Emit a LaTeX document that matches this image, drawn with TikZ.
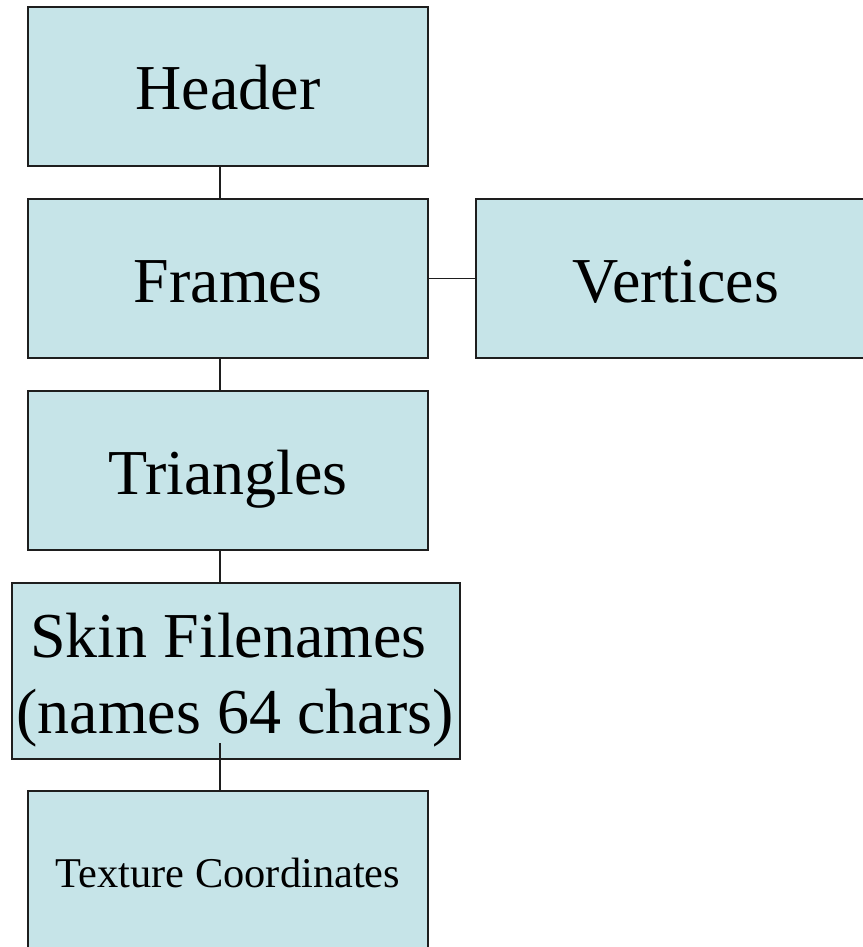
\documentclass[tikz,border=0pt]{standalone}
\usepackage{fontspec}
\setmainfont{Liberation Serif}
\definecolor{boxfill}{RGB}{198,228,232}
\definecolor{edge}{RGB}{30,30,30}
\begin{document}
\begin{tikzpicture}[x=1pt,y=-1pt,
  box/.style={draw=edge, line width=1.6pt, fill=boxfill, minimum width=400pt,
    minimum height=159pt, inner sep=0pt, font=\fontsize{64}{76}\selectfont,
    text height=47pt, text depth=0pt},
  bigtext/.style={inner sep=0pt, font=\fontsize{64}{76}\selectfont, anchor=base},
  link/.style={draw=edge, line width=1.6pt}]
\useasboundingbox (0,0) rectangle (862,947);
\coordinate (spine) at (220,0);
\node[box] (header) at (228,86.5) {Header};
\node[box] (frames) at (228,278.5) {Frames};
\node[box] (vertices) at (676,278.5) {Vertices};
\node[box] (triangles) at (228,470.5) {Triangles};
\node[box, minimum width=448pt, minimum height=176pt] (skin) at (236,671) {};
\node[bigtext] (skin1) at (236.5,657) {Skin Filenames\hspace*{0.25em}};
\node[bigtext] (skin2) at (235,733) {(names 64 chars)};
\node[box, font=\fontsize{42.4}{50}\selectfont, text height=33pt] (texture) at (228,870.5) {Texture Coordinates};
\coordinate (skinlink) at (220,743);
\draw[link] (header.south -| spine) -- (frames.north -| spine);
\draw[link] (frames.south -| spine) -- (triangles.north -| spine);
\draw[link] (triangles.south -| spine) -- (skin.north -| spine);
\draw[link] (frames.east) -- (vertices.west);
\draw[link] (skinlink) -- (texture.north -| skinlink);
\end{tikzpicture}
\end{document}
